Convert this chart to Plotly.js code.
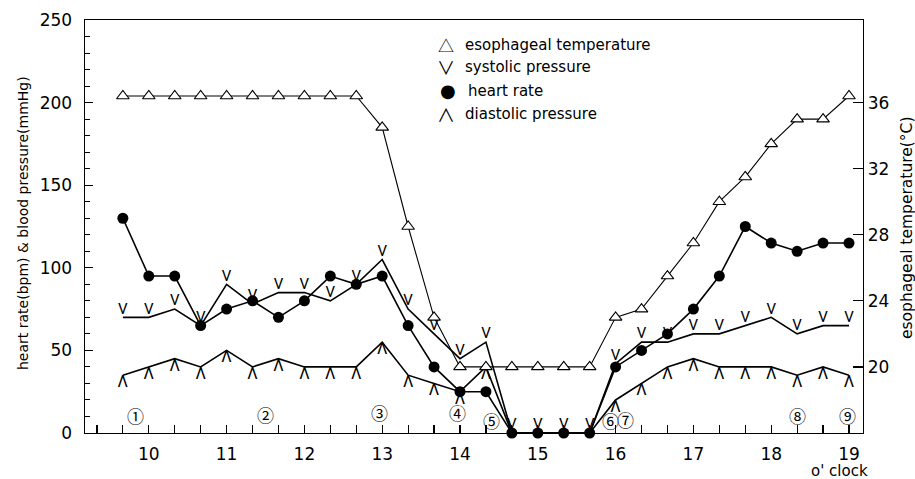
<!DOCTYPE html>
<html>
<head>
<meta charset="utf-8">
<script src="https://cdn.plot.ly/plotly-3.0.1.min.js"></script>
<style>
html,body{margin:0;padding:0;background:#fff;}
#chart{width:915px;height:479px;}
</style>
</head>
<body>
<div id="chart"></div>
<script>
// Sampling times (20-minute intervals)
const times = ["9:40","10:00","10:20","10:40","11:00","11:20","11:40","12:00","12:20","12:40",
  "13:00","13:20","13:40","14:00","14:20","14:40","15:00","15:20","15:40","16:00",
  "16:20","16:40","17:00","17:20","17:40","18:00","18:20","18:40","19:00"];
// Heart rate (bpm)
const heartRate = [130,95,95,65,75,80,70,80,95,90,95,65,40,25,25,0,0,0,0,40,50,60,75,95,125,115,110,115,115];
// Systolic pressure (mmHg)
const systolic = [70,70,75,65,90,78,85,85,80,90,105,75,60,45,55,0,0,0,0,42,55,55,60,60,65,70,60,65,65];
// Diastolic pressure (mmHg)
const diastolic = [35,40,45,40,50,40,45,40,40,40,55,35,30,25,40,0,0,0,0,20,30,40,45,40,40,40,35,40,35];
// Esophageal temperature (°C)
const esoTemp = [36.4,36.4,36.4,36.4,36.4,36.4,36.4,36.4,36.4,36.4,34.5,28.5,23,20,20,20,20,20,20,23,23.5,25.5,27.5,30,31.5,33.5,35,35,36.4];
// Event markers
const eventLabels = ["①","②","③","④","⑤","⑥","⑦","⑧","⑨"];
const eventTimes = ["9:50","11:30","12:58","13:58","14:24","15:56","16:08","18:20","18:59"];
// Axis tick labels
const hourTicks = [10,11,12,13,14,15,16,17,18,19];
const tempTicks = [20,24,28,32,36];
// Legend
const legendSymbols = ["△","∨","●","∧"];
const legendLabels = ["esophageal temperature","systolic pressure","heart rate","diastolic pressure"];

function toHours(t){const p=t.split(":");return +p[0]+(+p[1])/60;}
const x = times.map(toHours);
const FONT = "DejaVu Sans";
const CJK = "Noto Sans CJK JP";
const MARKFONT = "Roboto";

const traces = [
  {x:x, y:esoTemp, yaxis:"y2", type:"scatter", mode:"lines+markers",
   line:{color:"#000",width:1.1},
   marker:{symbol:"triangle-up", size:11, color:"#fff", line:{color:"#000",width:1.1}},
   cliponaxis:false, hoverinfo:"skip"},
  {x:x, y:diastolic, type:"scatter", mode:"lines+text", text:diastolic.map(v=>v>0?"Λ":""),
   textposition:"bottom center", textfont:{family:MARKFONT,size:16,color:"#000"},
   line:{color:"#000",width:1.6}, cliponaxis:true, hoverinfo:"skip"},
  {x:x, y:systolic, type:"scatter", mode:"lines+text", text:systolic.map(()=>"V"),
   textposition:"top center", textfont:{family:MARKFONT,size:15,color:"#000"},
   line:{color:"#000",width:1.6}, cliponaxis:false, hoverinfo:"skip"},
  {x:x, y:heartRate, type:"scatter", mode:"lines+markers",
   line:{color:"#000",width:1.6},
   marker:{symbol:"circle", size:11, color:"#000"},
   cliponaxis:false, hoverinfo:"skip"}
];

const L=85, R=863, T=20, B=433;
function px2x(p){return (p-L)/(R-L);}
function px2y(p){return (B-p)/(B-T);}

const annotations = [];
// legend
const rowY=[45,67,90.5,114];
const symSize=[16,18,18,18];
legendSymbols.forEach((s,i)=>{
  annotations.push({xref:"paper",yref:"paper",x:px2x(i===2?448:446),y:px2y(rowY[i]),text:s,showarrow:false,
    xanchor:"center",yanchor:"middle",font:{family:(i===2?FONT:CJK),size:symSize[i],color:"#000"}});
  annotations.push({xref:"paper",yref:"paper",x:px2x(i===2?466:463),y:px2y(rowY[i]),text:legendLabels[i],showarrow:false,
    xanchor:"left",yanchor:"middle",font:{family:FONT,size:15,color:"#000"}});
});
// events
const eventPx=[415,414,412,412,420.5,420.5,419,415.7,415];
eventLabels.forEach((s,i)=>{
  annotations.push({xref:"x",yref:"paper",x:toHours(eventTimes[i]),y:px2y(eventPx[i]),text:s,showarrow:false,
    xanchor:"center",yanchor:"middle",font:{family:CJK,size:17,color:"#000"}});
});
// axis titles
annotations.push({xref:"paper",yref:"paper",x:px2x(23),y:px2y(223),text:"heart rate(bpm) & blood pressure(mmHg)",
  textangle:-90,showarrow:false,xanchor:"center",yanchor:"middle",font:{family:FONT,size:14,color:"#000"}});
annotations.push({xref:"paper",yref:"paper",x:px2x(907),y:px2y(228),text:"esophageal temperature(°C)",
  textangle:-90,showarrow:false,xanchor:"center",yanchor:"middle",font:{family:FONT,size:15.5,color:"#000"}});
annotations.push({xref:"paper",yref:"paper",x:px2x(839),y:px2y(471),text:"o' clock",
  showarrow:false,xanchor:"center",yanchor:"middle",font:{family:FONT,size:15,color:"#000"}});

const layout = {
  width:915, height:479,
  margin:{l:L, r:915-R, t:T, b:479-B},
  paper_bgcolor:"#fff", plot_bgcolor:"#fff",
  showlegend:false,
  font:{family:FONT, color:"#000"},
  xaxis:{range:[9.18,19.18], tickmode:"array", tickvals:hourTicks, ticktext:hourTicks.map(String),
    ticks:"inside", ticklen:8, tickwidth:1.2, tickcolor:"#000",
    minor:{tick0:9, dtick:1/3, ticks:"inside", ticklen:8, tickwidth:1.2, tickcolor:"#000", showgrid:false},
    showline:true, linecolor:"#000", linewidth:1.4, mirror:true,
    showgrid:false, zeroline:false, tickfont:{family:FONT,size:17,color:"#000"}, ticklabelstandoff:5},
  yaxis:{range:[0,250], tickmode:"linear", tick0:0, dtick:50,
    ticks:"inside", ticklen:8, tickwidth:1.2, tickcolor:"#000",
    minor:{dtick:10, ticks:"inside", ticklen:5, tickwidth:1, tickcolor:"#000", showgrid:false},
    showline:true, linecolor:"#000", linewidth:1.4,
    showgrid:false, zeroline:false, tickfont:{family:FONT,size:17,color:"#000"}, ticklabelstandoff:8},
  yaxis2:{range:[16,41], overlaying:"y", side:"right", tickmode:"array", tickvals:tempTicks,
    ticks:"inside", ticklen:10, tickwidth:1.2, tickcolor:"#000",
    showline:true, linecolor:"#000", linewidth:1.4,
    showgrid:false, zeroline:false, tickfont:{family:FONT,size:17,color:"#000"}},
  annotations:annotations
};

Plotly.newPlot("chart", traces, layout, {displayModeBar:false, staticPlot:true});
</script>
</body>
</html>
